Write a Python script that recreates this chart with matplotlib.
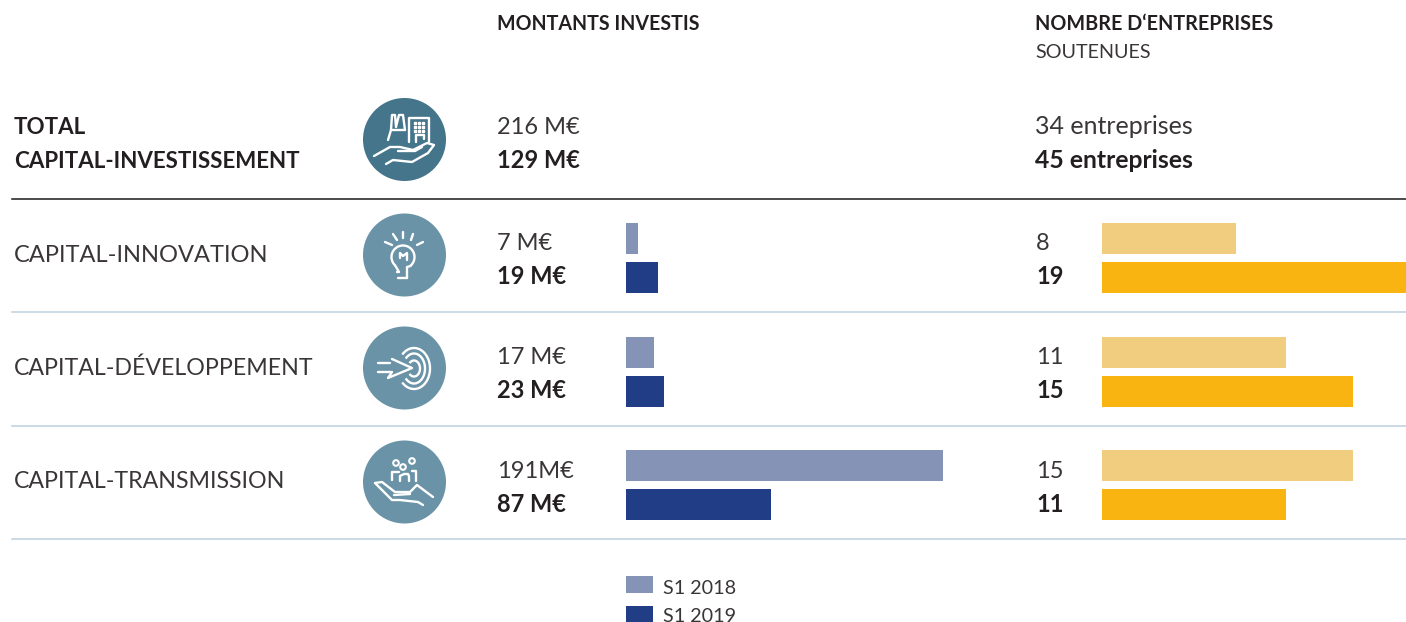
import matplotlib
matplotlib.use('Agg')
import matplotlib.pyplot as plt
from matplotlib.patches import Circle, Rectangle, Arc

plt.rcParams['font.family'] = ['Lato', 'DejaVu Sans']

categories = ['CAPITAL-INNOVATION', 'CAPITAL-DÉVELOPPEMENT', 'CAPITAL-TRANSMISSION']
montants_2018 = [7, 17, 191]
montants_2019 = [19, 23, 87]
entreprises_2018 = [8, 11, 15]
entreprises_2019 = [19, 15, 11]
montants_2018_labels = ['7 M€', '17 M€', '191M€']
montants_2019_labels = ['19 M€', '23 M€', '87 M€']
total_labels = ['216 M€', '129 M€', '34 entreprises', '45 entreprises']
legend_labels = ['S1 2018', 'S1 2019']

DARK = '#231f20'
BLUE_LIGHT = '#8593b6'
BLUE = '#203d85'
GOLD_LIGHT = '#f1cd7f'
GOLD = '#fab412'
RULE = '#bcd0dd'

fig = plt.figure(figsize=(14.06, 6.22), dpi=100)
bg = fig.add_axes([0, 0, 1, 1])
bg.set_xlim(0, 1406)
bg.set_ylim(622, 0)
bg.axis('off')


def bar_axes(left, width, xmax):
    # y axis runs in row units, row 0 centred at 258 px, rows 113.5 px apart
    ax = fig.add_axes([left / 1406, (622 - 539) / 622, width / 1406, (539 - 198) / 622])
    ax.set_xlim(0, xmax)
    ax.set_ylim((539 - 258) / 113.5, (198 - 258) / 113.5)
    ax.axis('off')
    ax.patch.set_alpha(0)
    return ax


rows = [0, 1, 2]
off = 19.5 / 113.5
h = 31 / 113.5

ax1 = bar_axes(626, 340, 340 / 1.662)
ax1.barh([r - off for r in rows], montants_2018, height=h, color=BLUE_LIGHT)
ax1.barh([r + off for r in rows], montants_2019, height=h, color=BLUE)

ax2 = bar_axes(1102, 304, 304 / 16.73)
ax2.barh([r - off for r in rows], entreprises_2018, height=h, color=GOLD_LIGHT)
ax2.barh([r + off for r in rows], entreprises_2019, height=h, color=GOLD)


def txt(x, y, s, size=17, bold=False):
    bg.text(x, y, s, fontsize=size, color='#3a3637' if not bold else DARK, va='center', ha='left',
            fontweight='bold' if bold else 'normal')


txt(497, 24, 'MONTANTS INVESTIS', 14.1, True)
txt(1035, 24, "NOMBRE D‘ENTREPRISES", 14.2, True)
txt(1035, 53, 'SOUTENUES', 14.2)
txt(14, 127, 'TOTAL', 16.1, True)
txt(14, 161, 'CAPITAL-INVESTISSEMENT', 16.1, True)
txt(497, 127, total_labels[0])
txt(497, 161, total_labels[1], bold=True)
txt(1035, 127, total_labels[2], 18)
txt(1035, 161, total_labels[3], 17.8, True)

row_y = [255, 368, 481]
row_size = [17, 16.7, 16.7]
for i, name in enumerate(categories):
    txt(14, row_y[i], name, row_size[i])
    y = [243, 357, 471][i]
    txt(497, y, montants_2018_labels[i])
    txt(497, y + 33, montants_2019_labels[i], bold=True)
    txt(1036, y, str(entreprises_2018[i]))
    txt(1036, y + 33, str(entreprises_2019[i]), bold=True)

bg.plot([12, 1406], [198.5, 198.5], color='#1a1a1a', lw=1.1)
for y in [312, 425.5, 539]:
    bg.plot([12, 1406], [y, y], color=RULE, lw=1.1)

bg.add_patch(Rectangle((626, 576), 27, 17, color=BLUE_LIGHT, lw=0))
bg.add_patch(Rectangle((626, 606), 27, 16, color=BLUE, lw=0))
txt(663, 588, legend_labels[0], 14.2)
txt(663, 616, legend_labels[1], 14.2)

# icons: discs with hand-traced white outlines
for cy, col in zip([139.5, 255, 368, 482], ['#44758a', '#6b93a7', '#6b93a7', '#6b93a7']):
    bg.add_patch(Circle((404.5, cy), 41.5, color=col, lw=0))


def stroke(xs, ys, lw=1.7):
    bg.plot(xs, ys, color='white', lw=lw, solid_capstyle='round', solid_joinstyle='round')


# factory + building + hand
stroke([388, 391, 392, 395, 396, 399, 403, 405], [140, 130, 115, 115, 127, 115, 115, 130])
stroke([391, 405], [130, 130])
stroke([409, 409, 429, 429], [142, 118, 118, 142])
stroke([416, 416, 424, 424], [142, 135, 135, 139])
for yy in [122.5, 126.5, 130.5]:
    bg.plot([415, 419, 423], [yy] * 3, ls='', marker='s', ms=1.6, color='white')
stroke([374, 390, 400, 413, 427, 434, 428, 412, 393, 386],
       [156, 147, 147, 150, 143, 145, 153, 162, 160, 164])
stroke([398, 415, 422], [151, 151, 147])

# bulb
stroke([385, 392], [242, 245])
stroke([393, 397], [234, 240])
stroke([403, 403], [232, 238])
stroke([413, 411], [234, 240])
stroke([423, 417], [242, 245])
bg.add_patch(Arc((403, 257), 23, 23, theta1=-230, theta2=50, color='white', lw=1.7))
stroke([395.5, 399, 397], [266, 272, 272])
stroke([410.5, 407, 407], [266, 267, 278])
stroke([398, 407], [278, 278])
stroke([400, 400, 403, 407, 407], [258, 253, 256, 253, 260])

# target + arrow
for w, ht in [(12, 16), (22, 30), (32, 41)]:
    bg.add_patch(Arc((414, 368.5), w, ht, theta1=-130, theta2=130, color='white', lw=1.7))
stroke([378, 390], [363, 363])
stroke([378, 391], [372, 372])
stroke([392, 412, 388, 392], [359, 368, 378, 372])

# people + hand
for cx, cy in [(396, 463), (403, 467), (412, 461)]:
    bg.add_patch(Circle((cx, cy), 2.8, fill=False, ec='white', lw=1.5))
stroke([392, 392, 399], [480, 472, 472])
stroke([400, 400, 404, 408, 409, 409], [481, 476, 474, 474, 476, 481])
stroke([412, 416, 416], [471, 471, 481])
stroke([375, 382, 395, 410, 417, 433], [483, 482, 492, 492, 485, 497])
stroke([375, 392, 400, 418, 423], [483, 500, 500, 502, 505])
stroke([394, 410], [495, 494])

fig.savefig('out.png', dpi=100)
